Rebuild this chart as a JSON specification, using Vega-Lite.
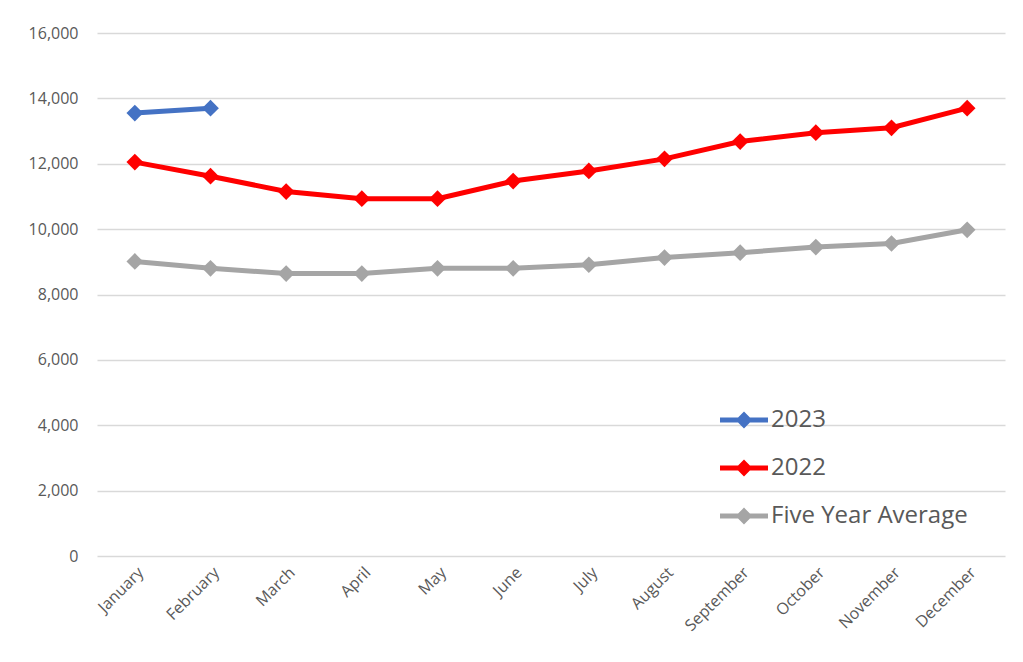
{
  "$schema": "https://vega.github.io/schema/vega-lite/v6.json",
  "width": 908,
  "height": 523,
  "autosize": "none",
  "padding": {"left": 97, "top": 33, "right": 18, "bottom": 106},
  "background": "white",
  "config": {
    "font": "Open Sans",
    "view": {"stroke": null}
  },
  "data": {
    "values": [
      {"month": "January", "series": "2023", "value": 13550},
      {"month": "February", "series": "2023", "value": 13700},
      {"month": "January", "series": "2022", "value": 12050},
      {"month": "February", "series": "2022", "value": 11620},
      {"month": "March", "series": "2022", "value": 11150},
      {"month": "April", "series": "2022", "value": 10930},
      {"month": "May", "series": "2022", "value": 10930},
      {"month": "June", "series": "2022", "value": 11470},
      {"month": "July", "series": "2022", "value": 11780},
      {"month": "August", "series": "2022", "value": 12150},
      {"month": "September", "series": "2022", "value": 12680},
      {"month": "October", "series": "2022", "value": 12950},
      {"month": "November", "series": "2022", "value": 13100},
      {"month": "December", "series": "2022", "value": 13700},
      {"month": "January", "series": "Five Year Average", "value": 9010},
      {"month": "February", "series": "Five Year Average", "value": 8800},
      {"month": "March", "series": "Five Year Average", "value": 8640},
      {"month": "April", "series": "Five Year Average", "value": 8640},
      {"month": "May", "series": "Five Year Average", "value": 8800},
      {"month": "June", "series": "Five Year Average", "value": 8800},
      {"month": "July", "series": "Five Year Average", "value": 8910},
      {"month": "August", "series": "Five Year Average", "value": 9130},
      {"month": "September", "series": "Five Year Average", "value": 9280},
      {"month": "October", "series": "Five Year Average", "value": 9450},
      {"month": "November", "series": "Five Year Average", "value": 9560},
      {"month": "December", "series": "Five Year Average", "value": 9980}
    ]
  },
  "encoding": {
    "x": {
      "field": "month",
      "type": "ordinal",
      "sort": ["January","February","March","April","May","June","July","August","September","October","November","December"],
      "scale": {"type": "point", "padding": 0.5},
      "axis": {
        "title": null,
        "labelAngle": -45,
        "labelFontSize": 16,
        "labelColor": "#595959",
        "labelPadding": 8,
        "domain": false,
        "ticks": false,
        "grid": false
      }
    },
    "y": {
      "field": "value",
      "type": "quantitative",
      "scale": {"domain": [0, 16000], "nice": false},
      "axis": {
        "title": null,
        "values": [0,2000,4000,6000,8000,10000,12000,14000,16000],
        "format": ",d",
        "labelFontSize": 16,
        "labelColor": "#595959",
        "labelPadding": 19,
        "domain": false,
        "ticks": false,
        "gridColor": "#d9d9d9",
        "gridWidth": 1.5
      }
    },
    "color": {
      "field": "series",
      "type": "nominal",
      "scale": {
        "domain": ["2023", "2022", "Five Year Average"],
        "range": ["#4472C4", "#FF0000", "#A5A5A5"]
      },
      "legend": {
        "title": null,
        "orient": "none",
        "legendX": 623,
        "legendY": 363,
        "symbolType": "M-1,-0.1 H1 V0.1 H-1 Z M0,-0.35 L0.35,0 L0,0.35 L-0.35,0 Z",
        "symbolSize": 2304,
        "symbolStrokeWidth": 0,
        "symbolOpacity": 1,
        "labelFontSize": 24,
        "labelColor": "#595959",
        "labelOffset": 3,
        "labelLimit": 0,
        "rowPadding": 12,
        "padding": 0,
        "encode": {
          "symbols": {
            "update": {
              "fill": {"scale": "color", "field": "value"},
              "stroke": {"value": "transparent"},
              "opacity": {"value": 1}
            }
          }
        }
      }
    }
  },
  "layer": [
    {
      "mark": {"type": "line", "strokeWidth": 5}
    },
    {
      "mark": {"type": "point", "shape": "diamond", "filled": true, "size": 280, "opacity": 1}
    }
  ]
}
